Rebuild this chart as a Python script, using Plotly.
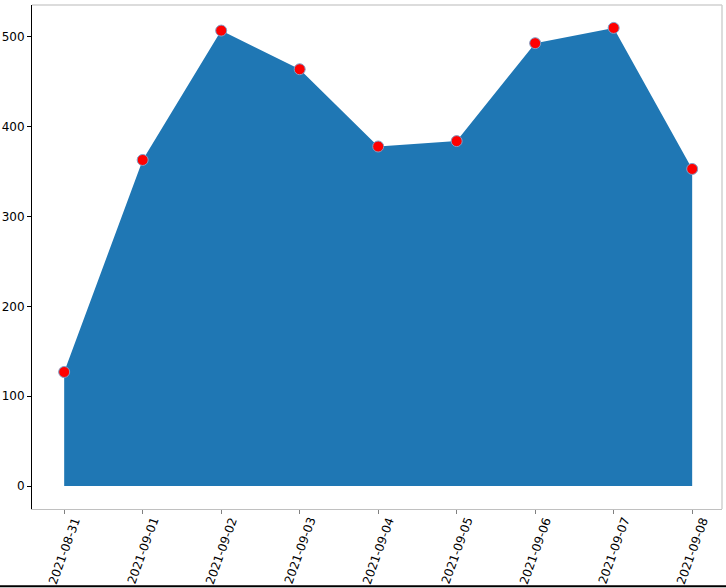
import plotly.graph_objects as go

dates = ["2021-08-31", "2021-09-01", "2021-09-02", "2021-09-03", "2021-09-04",
         "2021-09-05", "2021-09-06", "2021-09-07", "2021-09-08"]
values = [127, 363, 507, 464, 378, 384, 493, 510, 353]
y_ticks = [0, 100, 200, 300, 400, 500]

fig = go.Figure()
fig.add_trace(go.Scatter(x=dates, y=values, mode="lines", fill="tozeroy",
                         fillcolor="#1f77b4", line=dict(width=0, color="#1f77b4"),
                         hoverinfo="skip", showlegend=False))
fig.add_trace(go.Scatter(x=dates, y=values, mode="markers",
                         marker=dict(color="red", size=11,
                                     line=dict(color="#7f9fc8", width=1)),
                         showlegend=False))

# x tick labels as rotated annotations, centred under each tick (matplotlib style)
for d in dates:
    fig.add_annotation(x=d, xref="x", y=-0.010, yref="paper", text=d,
                       textangle=-70, showarrow=False, xanchor="center",
                       yanchor="top", borderpad=0,
                       font=dict(family="DejaVu Sans", size=12, color="black"))

vmax = max(values)
pad = 0.05 * vmax
fig.update_layout(
    width=726, height=588,
    margin=dict(l=32, r=4, t=5, b=79),
    paper_bgcolor="white", plot_bgcolor="white",
    font=dict(family="DejaVu Sans", size=12, color="black"),
    xaxis=dict(type="category", range=[-0.41, len(dates) - 1 + 0.38],
               tickvals=dates, showticklabels=False, automargin=False,
               showgrid=False, zeroline=False,
               showline=True, linecolor="#c0c0c0", linewidth=1,
               ticks="outside", ticklen=4, tickcolor="#808080"),
    yaxis=dict(range=[-pad, vmax + pad], tickvals=y_ticks, automargin=False,
               showgrid=False, zeroline=False,
               showline=True, linecolor="black", linewidth=1,
               ticks="outside", ticklen=4, tickcolor="black"),
    shapes=[
        dict(type="line", xref="paper", yref="paper", x0=0, x1=1, y0=1, y1=1,
             line=dict(color="#d0d0d0", width=1.5)),
        dict(type="line", xref="paper", yref="paper", x0=1, x1=1, y0=0, y1=1,
             line=dict(color="#d0d0d0", width=1.5)),
        dict(type="line", xref="paper", yref="paper", x0=-0.05, x1=1.01,
             y0=-0.1535, y1=-0.1535, line=dict(color="black", width=2)),
    ],
)

fig.write_html("out.html", config={"displayModeBar": False},
               post_script="document.body.style.margin='0';document.body.style.overflow='hidden';")
